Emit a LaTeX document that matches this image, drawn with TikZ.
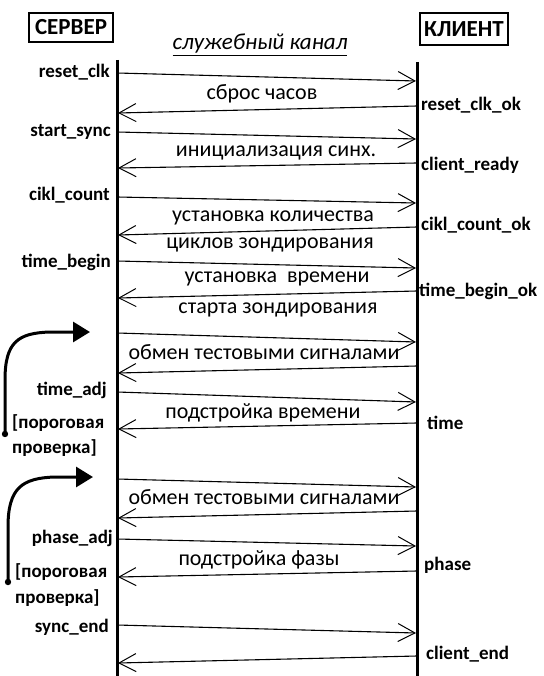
\documentclass[tikz,border=0pt]{standalone}
\usepackage{fontspec}
\setmainfont{Carlito}
\usetikzlibrary{arrows.meta}
\begin{document}
\begin{tikzpicture}[x=1pt,y=-1pt,
  lbl/.style={font=\fontsize{19}{19}\selectfont\bfseries, inner sep=0pt},
  msgtxt/.style={font=\fontsize{22}{22}\selectfont, inner sep=0pt},
  hdr/.style={draw, line width=1.2pt, font=\fontsize{23}{23}\selectfont\bfseries, inner sep=0pt},
  msg/.style={line width=1.1pt, -{Straight Barb[length=17pt,width=18pt,line width=1pt]}},
  life/.style={line width=3pt},
  loopar/.style={line width=3pt, -{Triangle[length=17pt,width=20pt]}}]
\useasboundingbox (0,0) rectangle (543,676);

% headers
\node[hdr, minimum width=84pt, minimum height=29pt] (srv) at (71,27.5) {СЕРВЕР};
\node[hdr, minimum width=88pt, minimum height=32pt] (cli) at (464,29) {КЛИЕНТ};
\node[font=\fontsize{23}{23}\selectfont\itshape, inner sep=0pt] (chan) at (260,45) {\underline{служебный канал}};

% lifelines
\coordinate (st) at (117,60); \coordinate (sb) at (117,676);
\coordinate (ct) at (417,62); \coordinate (cb) at (417,676);
\draw[life] (st) -- (sb);
\draw[life] (ct) -- (cb);

% server -> client
\foreach \a/\b [count=\i] in {73/81,132/139,197/203,261/268,333/342,392/402,479/487,539/546,625/633}{
  \coordinate (rs\i) at (117,\a);
  \coordinate (rc\i) at (416,\b);
  \draw[msg] (rs\i) -- (rc\i);
}
% client -> server
\foreach \a/\b [count=\i] in {106/113,163/168,227/235,291/298,366/373,423/429,511/518,571/577,656/663}{
  \coordinate (lc\i) at (417,\a);
  \coordinate (ls\i) at (118,\b);
  \draw[msg] (lc\i) -- (ls\i);
}

% message texts
\node[msgtxt] (t1) at (262,94) {сброс часов};
\node[msgtxt] (t2) at (276,153) {инициализация синх.};
\node[msgtxt] (t3) at (273,218) {установка количества};
\node[msgtxt] (t4) at (270,245) {циклов зондирования};
\node[msgtxt] (t5) at (277,279) {установка\ \ времени};
\node[msgtxt] (t6) at (278,310) {старта зондирования};
\node[msgtxt] (t7) at (264,352) {обмен тестовыми сигналами};
\node[msgtxt] (t8) at (263,413) {подстройка времени};
\node[msgtxt] (t9) at (264,497) {обмен тестовыми сигналами};
\node[msgtxt] (t10) at (259,560) {подстройка фазы};

% server labels
\node[lbl, anchor=east] (l1) at (110,72) {reset\_clk};
\node[lbl, anchor=east] (l2) at (111,132) {start\_sync};
\node[lbl, anchor=east] (l3) at (110,195) {cikl\_count};
\node[lbl, anchor=east] (l4) at (111,262) {time\_begin};
\node[lbl, anchor=east] (l5) at (107,390) {time\_adj};
\node[lbl, anchor=west] (l6) at (12,423) {[пороговая};
\node[lbl, anchor=west] (l7) at (12,448) {проверка]};
\node[lbl, anchor=east] (l8) at (113,538) {phase\_adj};
\node[lbl, anchor=west] (l9) at (15,572) {[пороговая};
\node[lbl, anchor=west] (l10) at (15,598) {проверка]};
\node[lbl, anchor=east] (l11) at (109,627) {sync\_end};

% client labels
\node[lbl, anchor=west] (r1) at (421,105) {reset\_clk\_ok};
\node[lbl, anchor=west] (r2) at (421,165) {client\_ready};
\node[lbl, anchor=west] (r3) at (421,225) {cikl\_count\_ok};
\node[lbl, anchor=west] (r4) at (419,291) {time\_begin\_ok};
\node[lbl, anchor=west] (r5) at (427,423) {time};
\node[lbl, anchor=west] (r6) at (424,565) {phase};
\node[lbl, anchor=west] (r7) at (426,654) {client\_end};

% loop arrows
\coordinate (a1s) at (5,434); \coordinate (a1e) at (90,332);
\fill (a1s) circle (3.2);
\draw[loopar] (a1s) -- (5,380) .. controls (5,342) and (18,333) .. (50,332) -- (a1e);
\coordinate (a2s) at (8,582); \coordinate (a2e) at (93,477);
\fill (a2s) circle (3.2);
\draw[loopar] (a2s) -- (8,527) .. controls (8,488) and (22,478) .. (55,477) -- (a2e);
\end{tikzpicture}
\end{document}
